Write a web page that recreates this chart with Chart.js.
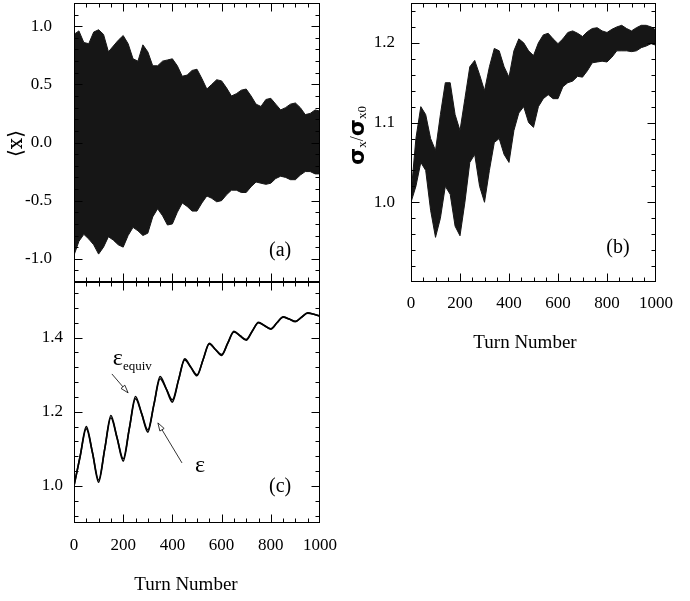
<!DOCTYPE html>
<html><head><meta charset="utf-8">
<script src="https://cdn.jsdelivr.net/npm/chart.js@4.4.1/dist/chart.umd.min.js"></script>
<style>
html,body{margin:0;padding:0;background:#fff;}
#wrap{position:relative;width:690px;height:601px;overflow:hidden;}
canvas{position:absolute;}
</style></head><body>
<div id="wrap">
<canvas id="ca" width="340" height="290" style="left:0;top:0;width:340px;height:290px"></canvas>
<canvas id="cb" width="350" height="370" style="left:340px;top:0;width:350px;height:370px"></canvas>
<canvas id="cc" width="340" height="324" style="left:0;top:277px;width:340px;height:324px"></canvas>
</div>
<script>
// ---------- data ----------
const turnsAB = [0,20,40,60,80,100,120,140,160,180,200,220,240,260,280,300,320,340,360,380,400,420,440,460,480,500,520,540,560,580,600,620,640,660,680,700,720,740,760,780,800,820,840,860,880,900,920,940,960,980,1000];
// panel (a): envelope of <x>
const xUpper = [0.93,0.96,0.86,0.85,0.95,0.97,0.93,0.78,0.83,0.88,0.92,0.85,0.72,0.70,0.84,0.78,0.66,0.66,0.70,0.71,0.72,0.66,0.57,0.58,0.62,0.63,0.55,0.46,0.50,0.54,0.53,0.47,0.40,0.42,0.45,0.46,0.40,0.33,0.31,0.37,0.38,0.33,0.28,0.30,0.33,0.34,0.30,0.24,0.25,0.28,0.27];
const xLower = [-0.97,-0.85,-0.79,-0.83,-0.88,-0.96,-0.90,-0.81,-0.84,-0.88,-0.90,-0.80,-0.73,-0.76,-0.80,-0.78,-0.64,-0.57,-0.63,-0.71,-0.70,-0.60,-0.52,-0.55,-0.59,-0.59,-0.52,-0.46,-0.48,-0.51,-0.50,-0.45,-0.41,-0.41,-0.43,-0.43,-0.38,-0.34,-0.35,-0.36,-0.35,-0.31,-0.29,-0.30,-0.32,-0.32,-0.28,-0.25,-0.25,-0.27,-0.27];
// panel (b): envelope of sigma_x / sigma_x0
const sigUpper = [1.01,1.08,1.12,1.11,1.08,1.065,1.11,1.15,1.15,1.11,1.09,1.13,1.17,1.178,1.16,1.14,1.17,1.193,1.19,1.17,1.157,1.19,1.205,1.20,1.19,1.184,1.20,1.21,1.212,1.205,1.199,1.205,1.213,1.215,1.212,1.208,1.214,1.218,1.219,1.215,1.213,1.217,1.22,1.222,1.218,1.215,1.219,1.222,1.222,1.22,1.216];
const sigLower = [1.0,1.02,1.05,1.04,0.99,0.956,0.98,1.02,1.01,0.97,0.958,1.0,1.05,1.06,1.02,1.0,1.04,1.075,1.08,1.06,1.05,1.09,1.112,1.12,1.10,1.094,1.12,1.13,1.135,1.13,1.13,1.145,1.15,1.152,1.158,1.157,1.165,1.175,1.176,1.177,1.176,1.182,1.19,1.19,1.19,1.189,1.19,1.194,1.196,1.199,1.197];
// panel (c): emittance growth
const turnsC = [0,25,50,75,100,125,150,175,200,225,250,275,300,325,350,375,400,425,450,475,500,525,550,575,600,625,650,675,700,725,750,775,800,825,850,875,900,925,950,975,1000];
const eps = [1.000,1.080,1.154,1.090,1.016,1.100,1.184,1.130,1.073,1.155,1.235,1.195,1.151,1.220,1.289,1.262,1.232,1.286,1.340,1.320,1.300,1.341,1.383,1.368,1.354,1.385,1.415,1.405,1.395,1.418,1.440,1.432,1.424,1.440,1.455,1.450,1.444,1.455,1.466,1.463,1.458];
const epsEquiv = [1.000,1.080,1.160,1.090,1.010,1.100,1.190,1.130,1.067,1.155,1.241,1.195,1.145,1.220,1.295,1.262,1.226,1.286,1.343,1.320,1.297,1.341,1.385,1.368,1.352,1.385,1.417,1.405,1.393,1.418,1.441,1.432,1.423,1.440,1.456,1.450,1.443,1.455,1.467,1.463,1.458];
// tick labels
const xTicks = [0,200,400,600,800,1000];
const aYTicks = [-1.0,-0.5,0.0,0.5,1.0];
const bYTicks = [1.0,1.1,1.2];
const cYTicks = [1.0,1.2,1.4];

// ---------- helpers ----------
Chart.defaults.font.family = "'Liberation Serif', 'Times New Roman', serif";
Chart.defaults.color = '#000';
const SERIF = "'Liberation Serif', 'Times New Roman', serif";
const TICK_FONT = {size:17, family:SERIF};

function pts(xs, ys){ return ys.map((v,i)=>({x:xs[i], y:v})); }
function range(a,b,s){ const out=[]; for(let v=a; v<=b+1e-9; v+=s) out.push(+v.toFixed(4)); return out; }

const frameTicks = {
  id:'frameTicks',
  afterDatasetsDraw(chart, args, o){
    const {ctx, chartArea:{left,right,top,bottom}, scales:{x,y}} = chart;
    ctx.save();
    ctx.strokeStyle='#000'; ctx.lineWidth=1;
    const L=Math.round(left)+0.5, R=Math.round(right)-0.5, T=Math.round(top)+0.5, B=Math.round(bottom)-0.5;
    ctx.beginPath();
    const xm = new Set(o.xMajor);
    o.xMinorAll.forEach(v=>{
      const len = xm.has(v)?8:4;
      const px = Math.round(x.getPixelForValue(v))+0.5;
      if(px<=L+1||px>=R-1) return;
      ctx.moveTo(px,B); ctx.lineTo(px,B-len);
      ctx.moveTo(px,T); ctx.lineTo(px,T+len);
    });
    const ym = new Set(o.yMajor.map(v=>v.toFixed(3)));
    o.yMinorAll.forEach(v=>{
      const len = ym.has(v.toFixed(3))?8:4;
      const py = Math.round(y.getPixelForValue(v))+0.5;
      if(py<=T+1||py>=B-1) return;
      ctx.moveTo(L,py); ctx.lineTo(L+len,py);
      ctx.moveTo(R,py); ctx.lineTo(R-len,py);
    });
    ctx.stroke();
    ctx.strokeRect(L,T,R-L,B-T);
    ctx.restore();
  }
};

function partsWidth(ctx, parts){
  let w=0;
  parts.forEach(p=>{ ctx.font=p.font; w+=ctx.measureText(p.t).width; });
  return w;
}
const texts = {
  id:'texts',
  afterDraw(chart, args, o){
    const {ctx, chartArea, scales:{x,y}} = chart;
    ctx.save();
    ctx.fillStyle='#000'; ctx.strokeStyle='#000';
    (o.items||[]).forEach(it=>{
      let px, py;
      if(it.data){ px = x.getPixelForValue(it.data[0]); py = y.getPixelForValue(it.data[1]); }
      else { px = it.rel[0]==='L' ? chartArea.left+it.rel[1] : (chartArea.left+chartArea.right)/2+it.rel[1];
             py = it.rel[2]==='B' ? chartArea.bottom+it.rel[3] : (chartArea.top+chartArea.bottom)/2+it.rel[3]; }
      ctx.save();
      ctx.translate(px,py);
      if(it.rotate) ctx.rotate(-Math.PI/2);
      ctx.textBaseline = it.baseline||'middle';
      const w = partsWidth(ctx, it.parts);
      let cx = it.align==='left' ? 0 : -w/2;
      it.parts.forEach(p=>{
        ctx.font=p.font; ctx.textAlign='left';
        ctx.fillText(p.t, cx, p.dy||0);
        cx += ctx.measureText(p.t).width;
      });
      ctx.restore();
    });
    (o.arrows||[]).forEach(a=>{
      const x1=x.getPixelForValue(a[0]), y1=y.getPixelForValue(a[1]);
      const x2=x.getPixelForValue(a[2]), y2=y.getPixelForValue(a[3]);
      const ang=Math.atan2(y2-y1,x2-x1);
      ctx.lineWidth=0.8;
      ctx.beginPath(); ctx.moveTo(x1,y1); ctx.lineTo(x2-7*Math.cos(ang),y2-7*Math.sin(ang)); ctx.stroke();
      const hl=8, hw=2.5;
      const bx=x2-hl*Math.cos(ang), by=y2-hl*Math.sin(ang);
      ctx.beginPath();
      ctx.moveTo(x2,y2);
      ctx.lineTo(bx+hw*Math.sin(ang), by-hw*Math.cos(ang));
      ctx.lineTo(bx-hw*Math.sin(ang), by+hw*Math.cos(ang));
      ctx.closePath();
      ctx.fillStyle='#fff'; ctx.fill(); ctx.stroke();
    });
    ctx.restore();
  }
};

function makeChart(id, cfg){
  const xScale = {
    type:'linear', min:0, max:1000,
    grid:{display:false, drawTicks:false}, border:{display:false},
    afterBuildTicks(s){ s.ticks = xTicks.map(v=>({value:v})); },
    afterFit(s){ s.height = cfg.xHeight; s.paddingLeft=0; s.paddingRight=0; s.paddingTop=0; s.paddingBottom=0; },
    ticks:{display:cfg.xLabels, padding:cfg.xPad, font:TICK_FONT, color:'#000', maxRotation:0, autoSkip:false, callback:v=>String(v)}
  };
  const yScale = {
    type:'linear', min:cfg.yMin, max:cfg.yMax,
    grid:{display:false, drawTicks:false}, border:{display:false},
    afterBuildTicks(s){ s.ticks = cfg.yTicks.map(v=>({value:v})); },
    afterFit(s){ s.width = cfg.yWidth; s.paddingLeft=0; s.paddingRight=0; s.paddingTop=0; s.paddingBottom=0; },
    ticks:{padding:cfg.yPad, font:TICK_FONT, color:'#000', autoSkip:false, callback:v=>Number(v).toFixed(1)}
  };
  return new Chart(document.getElementById(id), {
    type:'line',
    data:{datasets:cfg.datasets},
    options:{
      responsive:false, animation:false, devicePixelRatio:1,
      layout:{padding:cfg.padding, autoPadding:false},
      scales:{x:xScale, y:yScale},
      elements:{point:{radius:0}},
      plugins:{
        legend:{display:false}, tooltip:{enabled:false},
        frameTicks:{xMajor:xTicks, xMinorAll:range(0,1000,50), yMajor:cfg.yTicks, yMinorAll:cfg.yMinor},
        texts:cfg.texts
      }
    },
    plugins:[frameTicks, texts]
  });
}

const BAND = '#161616';
// (a)
makeChart('ca', {
  padding:{left:0, top:3, right:20, bottom:0},
  xHeight:8, xLabels:false, xPad:0, yWidth:74, yPad:22,
  yMin:-1.2, yMax:1.2, yTicks:aYTicks, yMinor:range(-1.2,1.2,0.1),
  datasets:[
    {data:pts(turnsAB,xUpper), borderColor:BAND, borderWidth:1, backgroundColor:BAND, fill:'+1', tension:0},
    {data:pts(turnsAB,xLower), borderColor:BAND, borderWidth:1, fill:false, tension:0}
  ],
  texts:{items:[
    {rel:['L',-57,'M',1], rotate:true, parts:[{t:'\u27E8x\u27E9', font:"20px 'DejaVu Serif', serif"}]},
    {data:[838,-0.93], parts:[{t:'(a)', font:"20px "+SERIF}]}
  ]}
});
// (b)
makeChart('cb', {
  padding:{left:0, top:3, right:34, bottom:0},
  xHeight:88, xLabels:true, xPad:11, yWidth:71, yPad:16,
  yMin:0.9, yMax:1.25, yTicks:bYTicks, yMinor:range(0.9,1.25,0.02),
  datasets:[
    {data:pts(turnsAB,sigUpper), borderColor:BAND, borderWidth:1, backgroundColor:BAND, fill:'+1', tension:0},
    {data:pts(turnsAB,sigLower), borderColor:BAND, borderWidth:1, fill:false, tension:0}
  ],
  texts:{items:[
    {rel:['L',-53,'M',-7], rotate:true, parts:[
      {t:'\u03C3', font:"bold 22px 'DejaVu Sans', sans-serif"},
      {t:'x', font:"13px "+SERIF, dy:5},
      {t:'/', font:"18px "+SERIF},
      {t:'\u03C3', font:"bold 22px 'DejaVu Sans', sans-serif"},
      {t:'x0', font:"13px "+SERIF, dy:5}
    ]},
    {rel:['C',-8.5,'B',61], parts:[{t:'Turn Number', font:"19px "+SERIF}]},
    {data:[845,0.943], parts:[{t:'(b)', font:"20px "+SERIF}]}
  ]}
});
// (c)
makeChart('cc', {
  padding:{left:0, top:5, right:20, bottom:0},
  xHeight:78, xLabels:true, xPad:12, yWidth:74, yPad:11,
  yMin:0.9, yMax:1.55, yTicks:cYTicks, yMinor:range(0.92,1.52,0.04),
  datasets:[
    {data:pts(turnsC,eps), borderColor:'#000', borderWidth:1.6, fill:false, cubicInterpolationMode:'monotone'},
    {data:pts(turnsC,epsEquiv), borderColor:'#000', borderWidth:1.6, fill:false, cubicInterpolationMode:'monotone'}
  ],
  texts:{
    items:[
      {rel:['C',-11,'B',62], parts:[{t:'Turn Number', font:"19px "+SERIF}]},
      {data:[158,1.326], align:'left', baseline:'alphabetic', parts:[
        {t:'\u03B5', font:"24px "+SERIF},
        {t:'equiv', font:"13px "+SERIF, dy:5}
      ]},
      {data:[492,1.038], align:'left', baseline:'alphabetic', parts:[{t:'\u03B5', font:"24px "+SERIF}]},
      {data:[838,0.997], parts:[{t:'(c)', font:"20px "+SERIF}]}
    ],
    arrows:[[154,1.302,220,1.251],[439,1.062,341,1.17]]
  }
});
</script>
</body></html>
